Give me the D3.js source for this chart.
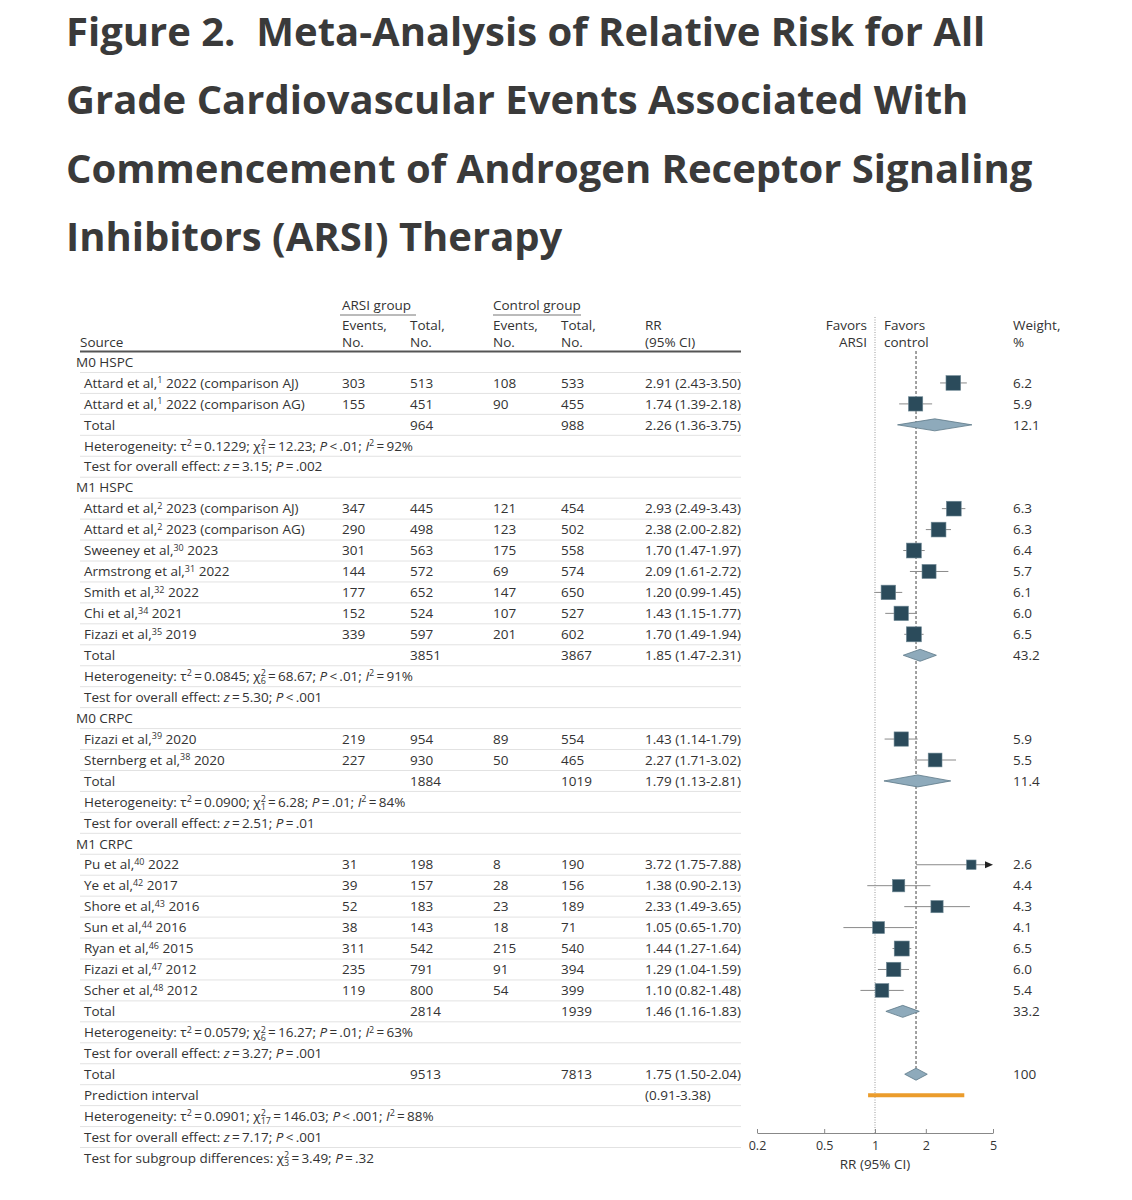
<!DOCTYPE html>
<html>
<head>
<meta charset="utf-8">
<script src="https://cdn.jsdelivr.net/npm/d3@7"></script>
<style>
  body { margin: 0; background: #fff; }
  svg text { fill: #333; }
  .title { font-family: 'Open Sans', sans-serif; font-stretch: 92%; font-weight: 700; font-size: 40px; fill: #3a3a3a; }
  .tbl { font-family: 'Open Sans', sans-serif; font-stretch: 97%; font-size: 13.5px; }
</style>
</head>
<body>
<div id="chart"></div>
<script>
// Titulo
const titleLines = [
  'Figure 2.\u00a0 Meta-Analysis of Relative Risk for All',
  'Grade Cardiovascular Events Associated With',
  'Commencement of Androgen Receptor Signaling',
  'Inhibitors (ARSI) Therapy'
];

// Subgrupos
const groupNames = ['M0 HSPC', 'M1 HSPC', 'M0 CRPC', 'M1 CRPC'];
const groupArsiTotal = [964, 3851, 1884, 2814];
const groupCtrlTotal = [988, 3867, 1019, 1939];
const groupRR = [2.26, 1.85, 1.79, 1.46];
const groupLo = [1.36, 1.47, 1.13, 1.16];
const groupHi = [3.75, 2.31, 2.81, 1.83];
const groupWeight = ['12.1', '43.2', '11.4', '33.2'];
const groupHet = [
  'Heterogeneity: τ{^2}\u2009=\u20090.1229; χ{^2}{_1}\u2009=\u200912.23; {i:P}\u2009<\u2009.01; {i:I}{^2}\u2009=\u200992%',
  'Heterogeneity: τ{^2}\u2009=\u20090.0845; χ{^2}{_6}\u2009=\u200968.67; {i:P}\u2009<\u2009.01; {i:I}{^2}\u2009=\u200991%',
  'Heterogeneity: τ{^2}\u2009=\u20090.0900; χ{^2}{_1}\u2009=\u20096.28; {i:P}\u2009=\u2009.01; {i:I}{^2}\u2009=\u200984%',
  'Heterogeneity: τ{^2}\u2009=\u20090.0579; χ{^2}{_6}\u2009=\u200916.27; {i:P}\u2009=\u2009.01; {i:I}{^2}\u2009=\u200963%'
];
const groupTest = [
  'Test for overall effect: {i:z}\u2009=\u20093.15; {i:P}\u2009=\u2009.002',
  'Test for overall effect: {i:z}\u2009=\u20095.30; {i:P}\u2009<\u2009.001',
  'Test for overall effect: {i:z}\u2009=\u20092.51; {i:P}\u2009=\u2009.01',
  'Test for overall effect: {i:z}\u2009=\u20093.27; {i:P}\u2009=\u2009.001'
];

// Estudos
const studyGroup = [0, 0, 1, 1, 1, 1, 1, 1, 1, 2, 2, 3, 3, 3, 3, 3, 3, 3];
const studyName = [
  'Attard et al,{^1} 2022 (comparison AJ)',
  'Attard et al,{^1} 2022 (comparison AG)',
  'Attard et al,{^2} 2023 (comparison AJ)',
  'Attard et al,{^2} 2023 (comparison AG)',
  'Sweeney et al,{^30} 2023',
  'Armstrong et al,{^31} 2022',
  'Smith et al,{^32} 2022',
  'Chi et al,{^34} 2021',
  'Fizazi et al,{^35} 2019',
  'Fizazi et al,{^39} 2020',
  'Sternberg et al,{^38} 2020',
  'Pu et al,{^40} 2022',
  'Ye et al,{^42} 2017',
  'Shore et al,{^43} 2016',
  'Sun et al,{^44} 2016',
  'Ryan et al,{^46} 2015',
  'Fizazi et al,{^47} 2012',
  'Scher et al,{^48} 2012'
];
const arsiEvents = [303, 155, 347, 290, 301, 144, 177, 152, 339, 219, 227, 31, 39, 52, 38, 311, 235, 119];
const arsiTotal = [513, 451, 445, 498, 563, 572, 652, 524, 597, 954, 930, 198, 157, 183, 143, 542, 791, 800];
const ctrlEvents = [108, 90, 121, 123, 175, 69, 147, 107, 201, 89, 50, 8, 28, 23, 18, 215, 91, 54];
const ctrlTotal = [533, 455, 454, 502, 558, 574, 650, 527, 602, 554, 465, 190, 156, 189, 71, 540, 394, 399];
const studyRR = [2.91, 1.74, 2.93, 2.38, 1.70, 2.09, 1.20, 1.43, 1.70, 1.43, 2.27, 3.72, 1.38, 2.33, 1.05, 1.44, 1.29, 1.10];
const studyLo = [2.43, 1.39, 2.49, 2.00, 1.47, 1.61, 0.99, 1.15, 1.49, 1.14, 1.71, 1.75, 0.90, 1.49, 0.65, 1.27, 1.04, 0.82];
const studyHi = [3.50, 2.18, 3.43, 2.82, 1.97, 2.72, 1.45, 1.77, 1.94, 1.79, 3.02, 7.88, 2.13, 3.65, 1.70, 1.64, 1.59, 1.48];
const studyWeight = ['6.2', '5.9', '6.3', '6.3', '6.4', '5.7', '6.1', '6.0', '6.5', '5.9', '5.5', '2.6', '4.4', '4.3', '4.1', '6.5', '6.0', '5.4'];

// Total geral
const overallArsi = 9513, overallCtrl = 7813;
const overallRR = 1.75, overallLo = 1.50, overallHi = 2.04;
const predLo = 0.91, predHi = 3.38;
const overallHet = 'Heterogeneity: τ{^2}\u2009=\u20090.0901; χ{^2}{_17}\u2009=\u2009146.03; {i:P}\u2009<\u2009.001; {i:I}{^2}\u2009=\u200988%';
const overallTest = 'Test for overall effect: {i:z}\u2009=\u20097.17; {i:P}\u2009<\u2009.001';
const subgroupTest = 'Test for subgroup differences: χ{^2}{_3}\u2009=\u20093.49; {i:P}\u2009=\u2009.32';

const xTicks = [0.2, 0.5, 1, 2, 5];

const fmt = d3.format('.2f');
const ciText = (rr, lo, hi) => `${fmt(rr)} (${fmt(lo)}-${fmt(hi)})`;

// Montar as linhas da tabela
const rows = [];
groupNames.forEach((g, gi) => {
  rows.push({ kind: 'group', label: g });
  studyGroup.forEach((sg, i) => {
    if (sg !== gi) return;
    rows.push({ kind: 'study', label: studyName[i], c1: arsiEvents[i], c2: arsiTotal[i], c3: ctrlEvents[i], c4: ctrlTotal[i],
      rr: studyRR[i], lo: studyLo[i], hi: studyHi[i], w: studyWeight[i] });
  });
  rows.push({ kind: 'total', label: 'Total', c2: groupArsiTotal[gi], c4: groupCtrlTotal[gi],
    rr: groupRR[gi], lo: groupLo[gi], hi: groupHi[gi], w: groupWeight[gi] });
  rows.push({ kind: 'note', label: groupHet[gi] });
  rows.push({ kind: 'note', label: groupTest[gi] });
});
rows.push({ kind: 'total', label: 'Total', c2: overallArsi, c4: overallCtrl, rr: overallRR, lo: overallLo, hi: overallHi, w: '100' });
rows.push({ kind: 'pred', label: 'Prediction interval', lo: predLo, hi: predHi });
rows.push({ kind: 'note', label: overallHet });
rows.push({ kind: 'note', label: overallTest });
rows.push({ kind: 'note', label: subgroupTest });

// Texto com sobrescrito / subscrito / italico
function richText(sel, str) {
  const parts = [];
  const re = /\{(\^|_|i:)([^}]*)\}/g;
  let last = 0, m;
  while ((m = re.exec(str)) !== null) {
    if (m.index > last) parts.push({ t: str.slice(last, m.index), k: 'n' });
    parts.push({ t: m[2], k: m[1] === '^' ? 'sup' : m[1] === '_' ? 'sub' : 'i' });
    last = re.lastIndex;
  }
  if (last < str.length) parts.push({ t: str.slice(last), k: 'n' });
  let shift = 0, prevSup = null;
  parts.forEach(p => {
    const target = p.k === 'sup' ? -4.5 : p.k === 'sub' ? 3.5 : 0;
    const ts = sel.append('tspan').text(p.t);
    if (target !== shift) ts.attr('dy', target - shift);
    shift = target;
    if (p.k === 'sup' || p.k === 'sub') ts.attr('font-size', '9px');
    if (p.k === 'i') ts.attr('font-style', 'italic');
    if (p.k === 'sub' && prevSup) ts.attr('dx', -prevSup.node().getComputedTextLength());
    prevSup = p.k === 'sup' ? ts : null;
  });
}

const svg = d3.select('#chart')
  .append('svg')
  .attr('width', 1132)
  .attr('height', 1200);

svg.append('rect').attr('width', 1132).attr('height', 1200).attr('fill', '#fff');

// Titulo
svg.selectAll('text.title')
  .data(titleLines)
  .enter()
  .append('text')
  .attr('class', 'title')
  .attr('x', 66)
  .attr('y', (d, i) => 46 + i * 68.3)
  .text(d => d);

const y = d3.scalePoint().domain(d3.range(rows.length)).range([362, 1158]);
const x = d3.scaleLog().domain([0.2, 5]).range([757, 993]);
const size = d3.scaleSqrt().domain([0, 6.5]).range([0, 15]);

const cols = { label: 84, c1: 342, c2: 410, c3: 493, c4: 561, rr: 645, w: 1013 };
const tbl = svg.append('g').attr('class', 'tbl');

// Cabecalho
const head = [
  ['ARSI group', 342, 305], ['Control group', 493, 305],
  ['Events,', 342, 325], ['No.', 342, 342], ['Total,', 410, 325], ['No.', 410, 342],
  ['Events,', 493, 325], ['No.', 493, 342], ['Total,', 561, 325], ['No.', 561, 342],
  ['RR', 645, 325], ['(95% CI)', 645, 342], ['Source', 80, 342],
  ['Favors', 884, 325], ['control', 884, 342], ['Weight,', 1013, 325], ['%', 1013, 342]
];
tbl.selectAll('text.head')
  .data(head)
  .enter()
  .append('text')
  .attr('x', d => d[1])
  .attr('y', d => d[2])
  .attr('dy', '0.35em')
  .text(d => d[0]);
tbl.selectAll('text.headR')
  .data([['Favors', 325], ['ARSI', 342]])
  .enter()
  .append('text')
  .attr('x', 867)
  .attr('y', d => d[1])
  .attr('dy', '0.35em')
  .attr('text-anchor', 'end')
  .text(d => d[0]);

tbl.append('line').attr('x1', 340).attr('x2', 416).attr('y1', 315).attr('y2', 315).attr('stroke', '#777');
tbl.append('line').attr('x1', 493).attr('x2', 581).attr('y1', 315).attr('y2', 315).attr('stroke', '#777');
tbl.append('line').attr('x1', 80).attr('x2', 741).attr('y1', 351.5).attr('y2', 351.5).attr('stroke', '#555').attr('stroke-width', 2);

// Linhas separadoras
const step = y.step();
tbl.selectAll('line.sep')
  .data(rows.slice(0, -1))
  .enter()
  .append('line')
  .attr('x1', 80).attr('x2', 741)
  .attr('y1', (d, i) => y(i) + step / 2)
  .attr('y2', (d, i) => y(i) + step / 2)
  .attr('stroke', '#e2e2e2');

// Texto das linhas
rows.forEach((r, i) => {
  const t = tbl.append('text')
    .attr('x', r.kind === 'group' ? 76 : cols.label)
    .attr('y', y(i))
    .attr('dy', '0.35em');
  richText(t, r.label);
  ['c1', 'c2', 'c3', 'c4'].forEach(c => {
    if (r[c] === undefined) return;
    tbl.append('text').attr('x', cols[c]).attr('y', y(i)).attr('dy', '0.35em').text(r[c]);
  });
  if (r.rr !== undefined) {
    tbl.append('text').attr('x', cols.rr).attr('y', y(i)).attr('dy', '0.35em').text(ciText(r.rr, r.lo, r.hi));
  } else if (r.kind === 'pred') {
    tbl.append('text').attr('x', cols.rr).attr('y', y(i)).attr('dy', '0.35em').text(`(${fmt(r.lo)}-${fmt(r.hi)})`);
  }
  if (r.w !== undefined) {
    tbl.append('text').attr('x', cols.w).attr('y', y(i)).attr('dy', '0.35em').text(r.w);
  }
});

// Grafico de floresta
const plot = svg.append('g');
const axisY = 1133;
const totalRow = rows.length - 5;

plot.append('line')
  .attr('x1', x(1)).attr('x2', x(1))
  .attr('y1', 317).attr('y2', axisY)
  .attr('stroke', '#999').attr('stroke-dasharray', '1,1.5');

plot.append('line')
  .attr('x1', x(overallRR)).attr('x2', x(overallRR))
  .attr('y1', 351).attr('y2', y(totalRow) - 6)
  .attr('stroke', '#444').attr('stroke-dasharray', '3,2');

const studyRows = rows.map((r, i) => ({ ...r, i })).filter(r => r.kind === 'study');
const [xmin, xmax] = x.domain();

plot.selectAll('line.ci')
  .data(studyRows)
  .enter()
  .append('line')
  .attr('x1', d => x(Math.max(d.lo, xmin)))
  .attr('x2', d => x(Math.min(d.hi, xmax)) - (d.hi > xmax ? 6 : 0))
  .attr('y1', d => y(d.i)).attr('y2', d => y(d.i))
  .attr('stroke', '#8a8a8a');

plot.selectAll('path.arrow')
  .data(studyRows.filter(d => d.hi > xmax))
  .enter()
  .append('path')
  .attr('d', d => `M${x(xmax)},${y(d.i)} l-8,-3.5 l0,7 z`)
  .attr('fill', '#222');

plot.selectAll('rect.box')
  .data(studyRows)
  .enter()
  .append('rect')
  .attr('x', d => x(d.rr) - size(+d.w) / 2)
  .attr('y', d => y(d.i) - size(+d.w) / 2)
  .attr('width', d => size(+d.w))
  .attr('height', d => size(+d.w))
  .attr('fill', '#2b4b5b')
  .attr('stroke', '#6f8995')
  .attr('stroke-width', 0.6);

const totalRows = rows.map((r, i) => ({ ...r, i })).filter(r => r.kind === 'total');
plot.selectAll('path.diamond')
  .data(totalRows)
  .enter()
  .append('path')
  .attr('d', d => `M${x(d.lo)},${y(d.i)} L${x(d.rr)},${y(d.i) - 6} L${x(d.hi)},${y(d.i)} L${x(d.rr)},${y(d.i) + 6} Z`)
  .attr('fill', '#8eaabb')
  .attr('stroke', '#5d7988')
  .attr('stroke-width', 0.8);

const predRow = rows.findIndex(r => r.kind === 'pred');
plot.append('line')
  .attr('x1', x(predLo)).attr('x2', x(predHi))
  .attr('y1', y(predRow)).attr('y2', y(predRow))
  .attr('stroke', '#eb9c2c').attr('stroke-width', 4);

// Eixo
const axis = plot.append('g')
  .attr('transform', `translate(0,${axisY})`)
  .call(d3.axisBottom(x).tickValues(xTicks).tickFormat(d3.format('')).tickSizeInner(-4).tickSizeOuter(0).tickPadding(8));
axis.select('.domain').attr('stroke', '#888');
axis.selectAll('.tick line').attr('stroke', '#888');
axis.selectAll('text')
  .attr('font-family', "'Open Sans', sans-serif")
  .attr('font-size', '12.5px')
  .attr('fill', '#333');

plot.append('text')
  .attr('class', 'tbl')
  .attr('x', x(1))
  .attr('y', 1164)
  .attr('dy', '0.35em')
  .attr('text-anchor', 'middle')
  .text('RR (95% CI)');
</script>
</body>
</html>
